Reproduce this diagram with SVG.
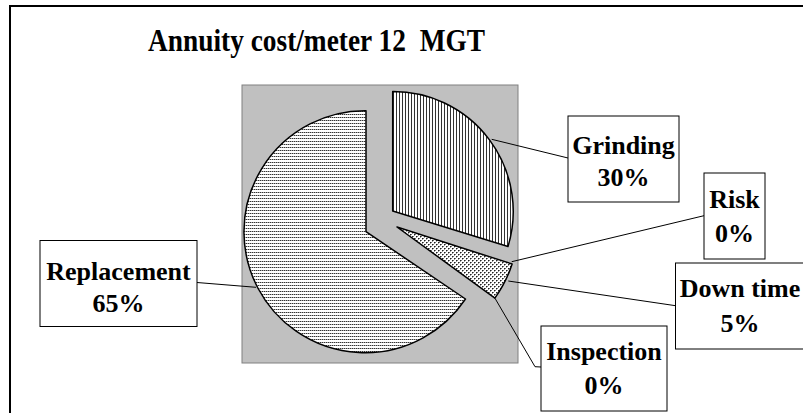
<svg xmlns="http://www.w3.org/2000/svg" width="803" height="413" viewBox="0 0 803 413">
<style>
.lbl{font-family:"Liberation Serif","Times New Roman",serif;font-weight:bold;font-size:26px;text-anchor:middle;fill:#000}
.ttl{font-family:"Liberation Serif","Times New Roman",serif;font-weight:bold;font-size:31px;fill:#000}
.box{fill:#fff;stroke:#000;stroke-width:1}
.lead{fill:none;stroke:#000;stroke-width:1}
.slice{stroke:#000;stroke-width:1.5;stroke-linejoin:round}
</style>
<defs>
<pattern id="pV" width="3" height="3" patternUnits="userSpaceOnUse">
<rect width="3" height="3" fill="#fff"/><rect x="0" y="0" width="1" height="3" fill="#333"/>
</pattern>
<pattern id="pH" width="2" height="3" patternUnits="userSpaceOnUse">
<rect width="2" height="3" fill="#fff"/><rect x="0" y="0" width="1" height="1" fill="#333"/><rect x="1" y="0" width="1" height="1" fill="#aaa"/>
</pattern>
<pattern id="pC" width="4" height="4" patternUnits="userSpaceOnUse">
<rect width="4" height="4" fill="#fff"/><rect x="0" y="0" width="1" height="1" fill="#222"/><rect x="2" y="2" width="1" height="1" fill="#222"/><rect x="1" y="0" width="1" height="1" fill="#777"/><rect x="3" y="2" width="1" height="1" fill="#777"/><rect x="0" y="1" width="1" height="1" fill="#999"/><rect x="2" y="3" width="1" height="1" fill="#999"/>
</pattern>
</defs>
<rect x="0" y="0" width="803" height="413" fill="#fff"/>
<rect x="10" y="6" width="800" height="420" fill="#fff" stroke="#000" stroke-width="2"/>
<text class="ttl" x="148" y="51" xml:space="preserve" textLength="337" lengthAdjust="spacingAndGlyphs">Annuity cost/meter 12  MGT</text>
<g id="plot">
<rect x="242" y="85" width="276" height="278" fill="#c0c0c0" stroke="#808080" stroke-width="1"/>
</g>
<g id="slice-grinding"><path class="slice" fill="url(#pV)" d="M392.7,211 L392.7,91.5 A120,120 0 0,1 508,246.5 Z"/></g>
<g id="slice-downtime"><path class="slice" fill="url(#pC)" d="M397,227 L512.1,264 A121,121 0 0,1 494.9,298.1 Z"/></g>
<g id="slice-replacement"><path class="slice" fill="url(#pH)" d="M366,231.7 L465.5,299 A121,121 0 1,1 366,110.7 Z"/></g>
<g id="connectors">
<polyline class="lead" points="491.7,139.3 568,158"/>
<polyline class="lead" points="511.7,261.7 704,215.7"/>
<polyline class="lead" points="508.3,281 675.5,305.7"/>
<polyline class="lead" points="495,298.3 535,366.7 541,367"/>
<polyline class="lead" points="197,282.5 256,287.3"/>
</g>
<g id="label-grinding"><rect class="box" x="568" y="116" width="111" height="86"/><text class="lbl" x="623.5" y="154">Grinding</text><text class="lbl" x="623.5" y="186">30%</text></g>
<g id="label-risk"><rect class="box" x="704" y="173" width="61" height="86"/><text class="lbl" x="734.5" y="208">Risk</text><text class="lbl" x="734.5" y="242">0%</text></g>
<g id="label-downtime"><rect class="box" x="675.5" y="263" width="130" height="86"/><text class="lbl" x="740" y="297">Down time</text><text class="lbl" x="740" y="332">5%</text></g>
<g id="label-inspection"><rect class="box" x="541" y="326" width="126" height="85"/><text class="lbl" x="604" y="360">Inspection</text><text class="lbl" x="604" y="394">0%</text></g>
<g id="label-replacement"><rect class="box" x="40" y="240.5" width="157" height="86"/><text class="lbl" x="118.5" y="280">Replacement</text><text class="lbl" x="118.5" y="312">65%</text></g>
</svg>
